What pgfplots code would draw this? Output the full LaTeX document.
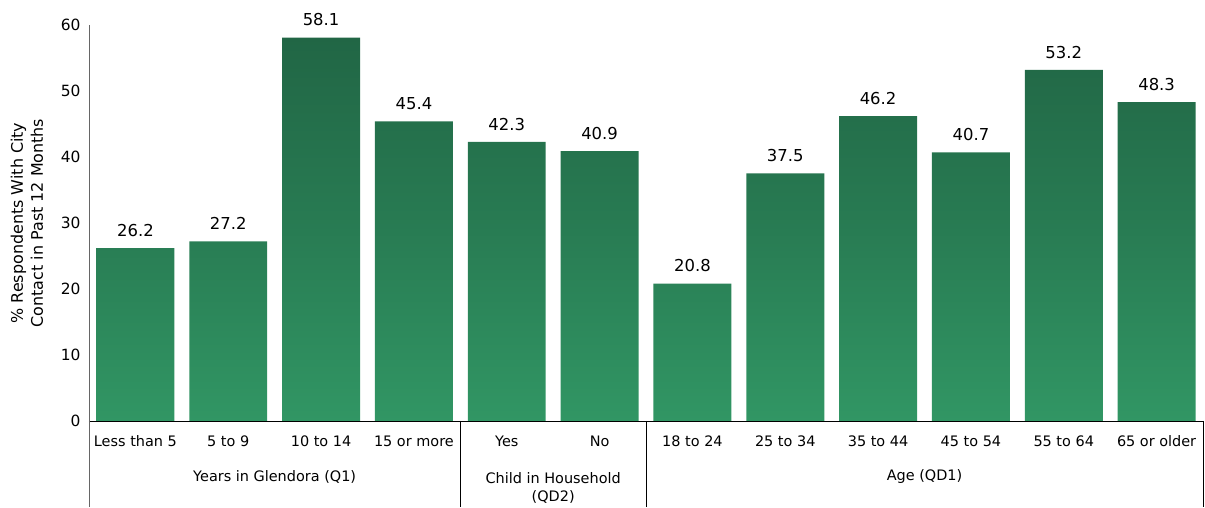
\documentclass[border=0pt]{standalone}
\usepackage{pgfplots}
\pgfplotsset{compat=1.18}
\usepackage{fontspec}
\setmainfont{DejaVu Sans}
\definecolor{bartop}{HTML}{216645}
\definecolor{barbot}{HTML}{319664}
\begin{document}
\begin{tikzpicture}
\begin{axis}[
  scale only axis,
  width=1114bp, height=396bp,
  xmin=-0.5, xmax=11.5, ymin=0, ymax=60,
  axis y line*=left, axis x line*=bottom,
  axis line style={-},
  y axis line style={draw=black!60},
  ytick={0,10,...,60},
  xtick={0,...,11},
  xticklabels={Less than 5,5 to 9,10 to 14,15 or more,Yes,No,18 to 24,25 to 34,35 to 44,45 to 54,55 to 64,65 or older},
  major tick length=0pt,
  tick style={draw=none},
  /pgf/number format/assume math mode=true,
  yticklabel style={font=\fontsize{15.5}{18}\selectfont, xshift=-5bp},
  xticklabel style={font=\fontsize{14.5}{17}\selectfont, yshift=-11bp},
  ylabel={\% Respondents With City\\Contact in Past 12 Months},
  ylabel style={font=\fontsize{16}{20}\selectfont, align=center, at={([xshift=-62bp]axis description cs:0,0.5)}, anchor=center},
  clip=false,
  ybar, bar width=0.84,
  nodes near coords,
  nodes near coords style={font=\fontsize{16.5}{19}\selectfont, anchor=south, yshift=8bp, /pgf/number format/fixed, /pgf/number format/fixed zerofill, /pgf/number format/precision=1},
]
\addplot[draw=none, top color=bartop, bottom color=barbot, middle color=bartop!55!barbot] coordinates {
(0,26.2) (1,27.2) (2,58.1) (3,45.4) (4,42.3) (5,40.9) (6,20.8) (7,37.5) (8,46.2) (9,40.7) (10,53.2) (11,48.3)};
\draw[black!60] (axis cs:-0.5,0) -- ([yshift=-86bp]axis cs:-0.5,0);
\draw[black] (axis cs:3.5,0) -- ([yshift=-86bp]axis cs:3.5,0);
\draw[black] (axis cs:5.5,0) -- ([yshift=-86bp]axis cs:5.5,0);
\draw[black] (axis cs:11.5,0) -- ([yshift=-86bp]axis cs:11.5,0);
\node[font=\fontsize{14.5}{17}\selectfont] at ([yshift=-56bp]axis cs:1.5,0) {Years in Glendora (Q1)};
\node[font=\fontsize{14.5}{18}\selectfont, align=center, anchor=north] at ([yshift=-48bp]axis cs:4.5,0) {Child in Household\\(QD2)};
\node[font=\fontsize{14.5}{17}\selectfont] at ([yshift=-56bp]axis cs:8.5,0) {Age (QD1)};
\end{axis}
\path ([xshift=-89bp,yshift=-86bp]current axis.south west) rectangle ([xshift=2bp,yshift=25bp]current axis.north east);
\end{tikzpicture}
\end{document}
